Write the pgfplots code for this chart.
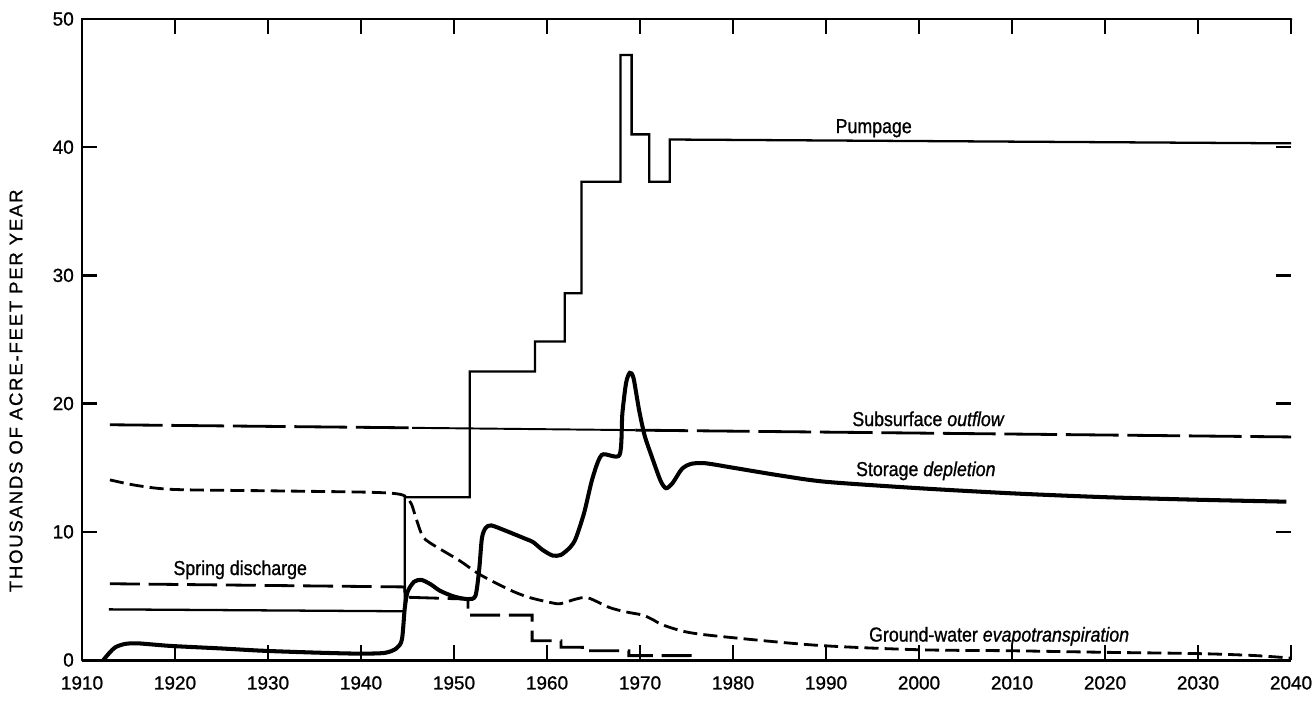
\documentclass[border=0pt]{standalone}
\usepackage{pgfplots}
\pgfplotsset{compat=1.18}
\usepackage{fontspec}
\setmainfont{Liberation Sans}[FakeBold=1]
\newfontfamily\labfont{Liberation Sans}[FakeStretch=0.88, FakeBold=1]
\newfontfamily\ylabfont{Liberation Sans}[LetterSpace=10, FakeBold=1]

\begin{document}
\begin{tikzpicture}
\useasboundingbox (-16.4mm,-8.8mm) rectangle (246.6mm,132mm);
\begin{axis}[
  at={(0,0)}, anchor=south west,
  width=241.8mm, height=128.2mm, scale only axis,
  xmin=1910, xmax=2040, ymin=0, ymax=50,
  xtick={1910,1920,...,2040}, ytick={0,10,...,50},
  tick pos=both, tick align=inside,
  major tick length=3mm,
  tick style={black, line width=1.3pt},
  axis line style={draw=none},
  /pgf/number format/1000 sep={},
  /pgf/number format/assume math mode=true,
  ticklabel style={font=\fontsize{10.8}{12}\selectfont},
  xticklabel style={yshift=-2mm},
  yticklabel style={xshift=-0.4mm},
  ylabel={\ylabfont\fontsize{10.5}{12}\selectfont THOUSANDS OF ACRE-FEET PER YEAR},
  every axis y label/.style={at={(rel axis cs:-0.0546,0.42)}, rotate=90, anchor=center},
  clip=false,
]
% axis frame (left, top, bottom)
\draw[line width=1.7pt, line cap=round] (rel axis cs:0,0) -- (rel axis cs:0,1) -- (rel axis cs:1,1);
\draw[line width=1.7pt] (rel axis cs:0,0) -- (rel axis cs:1,0);

% Pumpage
\addplot[black, line width=1.3pt, line join=miter] coordinates {
(1912.9,3.95) (1944.7,3.8) (1944.7,12.7) (1951.7,12.7) (1951.7,22.5)
(1958.7,22.5) (1958.7,24.85) (1961.9,24.85) (1961.9,28.6) (1963.7,28.6)
(1963.7,37.3) (1967.9,37.3) (1967.9,47.2) (1969.1,47.2) (1969.1,41.0)
(1971.0,41.0) (1971.0,37.3) (1973.2,37.3) (1973.2,40.6) (2040,40.3)};

% Subsurface outflow
\addplot[black, line width=1.6pt, dash pattern=on 30pt off 5pt] coordinates {
(1913,18.35) (1945.5,18.11)};
\addplot[black, line width=1.1pt] coordinates {
(1945.5,18.11) (1969.5,17.93)};
\addplot[black, line width=1.6pt, dash pattern=on 30pt off 5pt] coordinates {
(1969.5,17.93) (2040,17.4)};

% Spring discharge
\addplot[black, line width=1.6pt, dash pattern=on 17pt off 5pt] coordinates {
(1913,5.95) (1944.7,5.7) (1944.7,4.9) (1951.5,4.75) (1951.5,3.5)
(1958.4,3.5) (1958.4,1.5) (1961.5,1.5) (1961.5,1.0) (1963.8,1.0)
(1963.8,0.72) (1968.8,0.72) (1968.8,0.34) (1975.4,0.34) (1975.4,0)};

% Ground-water evapotranspiration
\addplot[black, line width=1.6pt, dash pattern=on 8pt off 3.5pt, smooth, tension=0.5] coordinates {
(1913,14.05) (1916,13.6) (1920,13.3) (1930,13.2) (1940,13.1) (1943.4,13.0)
(1944.7,12.8) (1945.4,12.2) (1945.9,11.1) (1946.6,9.7) (1947.5,9.1)
(1950.6,7.75) (1952.7,6.7) (1955.9,5.5) (1958,4.9) (1960.6,4.45)
(1961.5,4.4) (1963.1,4.75) (1964.4,4.85) (1966.7,4.1) (1968.5,3.75)
(1970.3,3.5) (1971.5,3.1) (1972.4,2.75) (1974.9,2.2) (1978.5,1.85)
(1989,1.15) (2000,0.8) (2010,0.72) (2020,0.6) (2030,0.5) (2036,0.35) (2040,0.15)};

% Storage depletion
\addplot[black, line width=2.3pt, smooth, tension=0.45] coordinates {
(1912.3,0) (1913.0,0.6) (1913.6,1.0) (1914.6,1.25) (1916,1.3) (1919.5,1.1)
(1925,0.9) (1929.5,0.72) (1935,0.58) (1939.5,0.5) (1942.5,0.55) (1943.8,0.9)
(1944.4,1.6) (1944.7,4.0) (1945.0,5.3) (1945.7,6.1) (1946.5,6.25) (1947.5,5.9)
(1948.5,5.4) (1950,4.95) (1951.5,4.75) (1952.3,5.0) (1952.7,7.0) (1953.0,9.5)
(1953.4,10.3) (1954,10.5) (1955.5,10.1) (1957.7,9.45) (1958.5,9.2) (1959.5,8.6)
(1960.6,8.15) (1961.5,8.2) (1962.5,8.8) (1963.1,9.5) (1964.0,11.5) (1964.9,14.2)
(1965.9,16.0) (1967.8,16.0) (1968.1,19.2) (1968.5,21.6) (1968.9,22.4)
(1969.3,22.0) (1969.9,19.5) (1970.5,17.5) (1971.2,16.0) (1972.2,14.0)
(1972.8,13.4) (1973.5,13.8) (1974.5,14.9) (1975.5,15.3) (1977,15.35)
(1980,15.0) (1985,14.4) (1990,13.9) (2000,13.4) (2010,13.0) (2020,12.7)
(2030,12.5) (2039.5,12.35)};

% inline labels
\node[anchor=base west, inner sep=0, font=\labfont\fontsize{11.5}{13}\selectfont] at (axis cs:1991,41.1) {Pumpage};
\node[anchor=base west, inner sep=0, font=\labfont\fontsize{11.5}{13}\selectfont] at (axis cs:1992.8,18.25) {Subsurface \textit{outflow}};
\node[anchor=base west, inner sep=0, font=\labfont\fontsize{11.5}{13}\selectfont] at (axis cs:1993.2,14.35) {Storage \textit{depletion}};
\node[anchor=base west, inner sep=0, font=\labfont\fontsize{11.5}{13}\selectfont] at (axis cs:1919.8,6.63) {Spring discharge};
\node[anchor=base west, inner sep=0, font=\labfont\fontsize{11.5}{13}\selectfont] at (axis cs:1994.6,1.44) {Ground-water \textit{evapotranspiration}};
\end{axis}
\end{tikzpicture}
\end{document}
